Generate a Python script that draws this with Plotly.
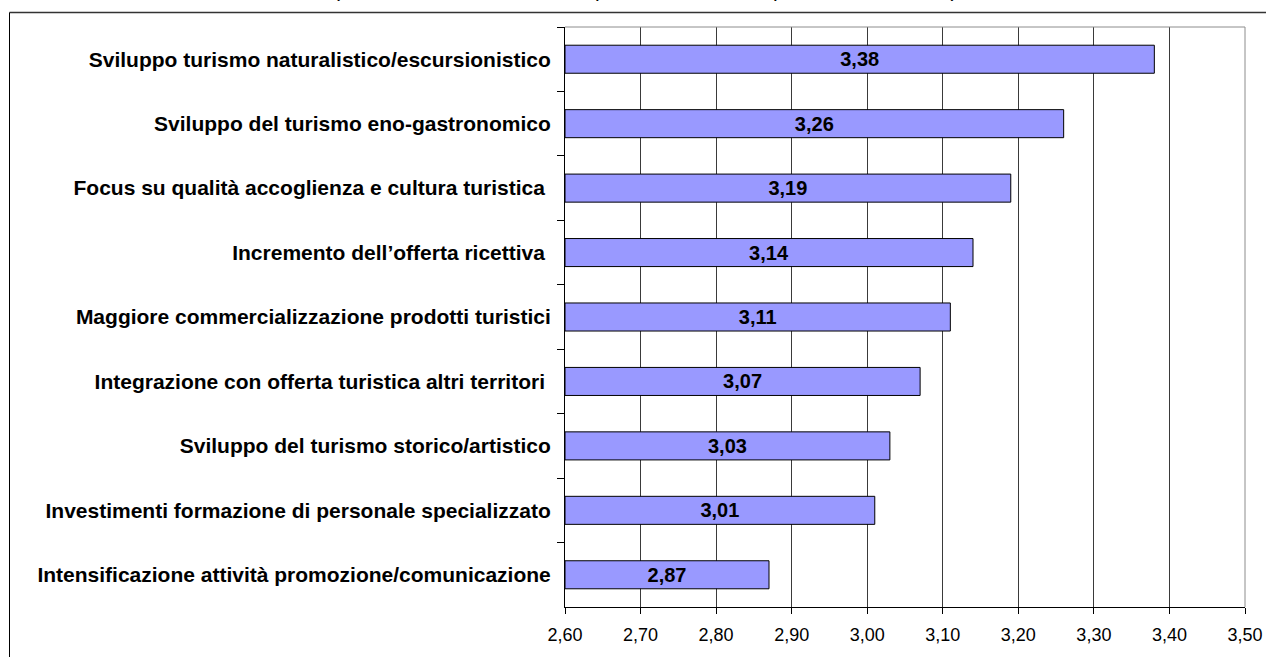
import plotly.graph_objects as go

# Interventi prioritari, dal più al meno rilevante (punteggio medio)
categorie = [
    "Sviluppo turismo naturalistico/escursionistico",
    "Sviluppo del turismo eno-gastronomico",
    "Focus su qualità accoglienza e cultura turistica\u00a0",
    "Incremento dell\u2019offerta ricettiva\u00a0",
    "Maggiore commercializzazione prodotti turistici",
    "Integrazione con offerta turistica altri territori\u00a0",
    "Sviluppo del turismo storico/artistico",
    "Investimenti formazione di personale specializzato",
    "Intensificazione attività promozione/comunicazione",
]
punteggi = [3.38, 3.26, 3.19, 3.14, 3.11, 3.07, 3.03, 3.01, 2.87]
tick_valori = [2.60, 2.70, 2.80, 2.90, 3.00, 3.10, 3.20, 3.30, 3.40, 3.50]
asse_min, asse_max = 2.60, 3.50

FONT = "Liberation Sans, Arial, sans-serif"

# le barre partono dal minimo dell'asse, così l'etichetta resta al centro della parte visibile
fig = go.Figure(
    go.Bar(
        x=[v - asse_min for v in punteggi],
        base=[asse_min] * len(punteggi),
        y=categorie,
        orientation="h",
        customdata=punteggi,
        marker=dict(color="#9999ff", line=dict(color="#000000", width=1)),
        texttemplate="<b>%{customdata:.2f}</b>",
        textposition="inside",
        insidetextanchor="middle",
        textangle=0,
        textfont=dict(family=FONT, size=20, color="#000000"),
        hoverinfo="skip",
    )
)

W, H = 1266, 657
L, R, T, B = 565, 21, 27, 50
pw, ph = W - L - R, H - T - B


def px(xp):
    return (xp - L) / pw


def py(yp):
    return (H - B - yp) / ph


fig.update_layout(
    width=W,
    height=H,
    autosize=False,
    margin=dict(l=L, r=R, t=T, b=B, pad=0, autoexpand=False),
    paper_bgcolor="#ffffff",
    plot_bgcolor="#ffffff",
    separators=",.",
    showlegend=False,
    bargap=0.565,
    font=dict(family=FONT, color="#000000"),
    xaxis=dict(
        range=[asse_min, asse_max],
        tickvals=tick_valori,
        tickformat=".2f",
        ticks="outside",
        ticklen=6,
        tickcolor="#000000",
        ticklabelstandoff=5,
        tickfont=dict(family=FONT, size=18, color="#000000"),
        showgrid=True,
        gridcolor="#3a3a3a",
        gridwidth=1,
        showline=True,
        linecolor="#000000",
        linewidth=1,
        zeroline=False,
        automargin=False,
        fixedrange=True,
    ),
    yaxis=dict(
        autorange="reversed",
        ticks="outside",
        tickson="boundaries",
        ticklen=7,
        tickcolor="#000000",
        ticklabelstandoff=9,
        tickfont=dict(family=FONT, size=21, color="#000000", weight="bold"),
        showgrid=False,
        showline=True,
        linecolor="#000000",
        linewidth=1,
        automargin=False,
        fixedrange=True,
    ),
    shapes=[
        # cornice esterna del grafico
        dict(type="line", xref="paper", yref="paper",
             x0=px(9.5), x1=px(1270), y0=py(12.5), y1=py(12.5),
             line=dict(color="#333333", width=1.5)),
        dict(type="line", xref="paper", yref="paper",
             x0=px(9.5), x1=px(9.5), y0=py(12.5), y1=py(670),
             line=dict(color="#000000", width=1)),
        # bordo grigio dell'area del grafico (alto e destra)
        dict(type="line", xref="paper", yref="paper",
             x0=0, x1=1, y0=1, y1=1,
             line=dict(color="#8c8c8c", width=1)),
        dict(type="line", xref="paper", yref="paper",
             x0=1, x1=1, y0=0, y1=1,
             line=dict(color="#8c8c8c", width=1)),
    ],
    annotations=[
        dict(
            text="(valori medi; scala da 1 = impatto nullo a 4 = impatto molto elevato)",
            xref="paper", yref="paper",
            x=px(645), y=py(3), xanchor="center", yanchor="bottom",
            showarrow=False,
            font=dict(family=FONT, size=21, color="#000000"),
        )
    ],
)

fig.write_html("out.html")
